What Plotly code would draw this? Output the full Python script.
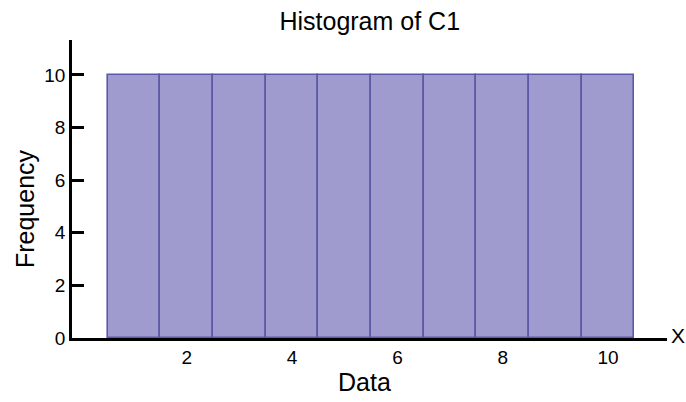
import plotly.graph_objects as go

# Bin centres and the count in each bin
bin_centers = [1, 2, 3, 4, 5, 6, 7, 8, 9, 10]
frequencies = [10, 10, 10, 10, 10, 10, 10, 10, 10, 10]
x_tick_values = [2, 4, 6, 8, 10]
y_tick_values = [0, 2, 4, 6, 8, 10]

FONT = "Liberation Sans, Arial, sans-serif"
TICK_FONT = dict(family=FONT, size=19, color="black")
LABEL_SIZE = 25

fig = go.Figure(
    go.Bar(
        x=bin_centers,
        y=frequencies,
        width=1,
        marker=dict(color="#a09bcf", line=dict(color="#5c5aa8", width=1.6)),
        hoverinfo="x+y",
    )
)

fig.update_layout(
    width=686,
    height=402,
    margin=dict(l=72, r=19, t=40, b=64, autoexpand=False),
    paper_bgcolor="white",
    plot_bgcolor="white",
    font=dict(family=FONT, color="black", size=18),
    showlegend=False,
    title=dict(
        text="Histogram of C1",
        x=0.539,
        xanchor="center",
        y=0.948,
        yanchor="middle",
        font=dict(size=LABEL_SIZE, family=FONT),
    ),
    bargap=0,
)

fig.update_layout(
    xaxis=dict(
        range=[-0.18, 11.12],
        tickmode="array",
        tickvals=x_tick_values,
        ticks="",
        ticklabelstandoff=0,
        tickfont=TICK_FONT,
        showgrid=False,
        zeroline=False,
        showline=True,
        linecolor="black",
        linewidth=2.5,
        layer="below traces",
    ),
    yaxis=dict(
        range=[0, 11.33],
        tickmode="array",
        tickvals=y_tick_values,
        ticks="inside",
        ticklen=12,
        tickwidth=2.5,
        tickcolor="black",
        tickfont=TICK_FONT,
        showgrid=False,
        zeroline=False,
        showline=True,
        linecolor="black",
        linewidth=2.5,
    ),
)

# Axis titles
fig.add_annotation(
    text="Data",
    xref="paper",
    yref="paper",
    x=0.491,
    y=-0.148,
    xanchor="center",
    yanchor="middle",
    showarrow=False,
    font=dict(size=LABEL_SIZE, family=FONT),
)
fig.add_annotation(
    text="Frequency",
    textangle=-90,
    xref="paper",
    yref="paper",
    x=-0.079,
    y=0.436,
    xanchor="center",
    yanchor="middle",
    showarrow=False,
    font=dict(size=LABEL_SIZE, family=FONT),
)

# Variable name at the end of the horizontal axis
fig.add_annotation(
    text="X",
    xref="paper",
    yref="y",
    x=1.0,
    y=0,
    xanchor="left",
    yanchor="middle",
    showarrow=False,
    font=dict(size=21, family=FONT),
    xshift=2,
    yshift=3,
)

fig.write_html("out.html")
